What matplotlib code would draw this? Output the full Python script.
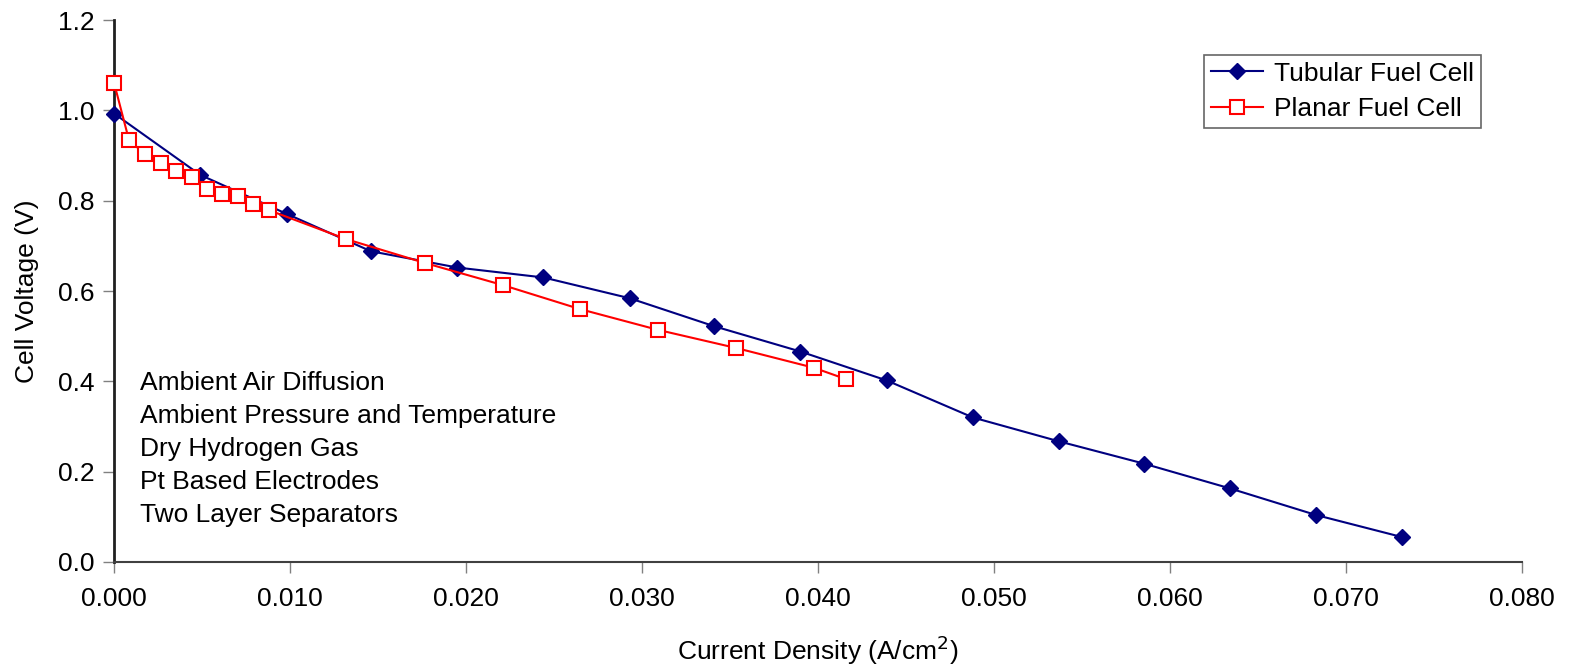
import matplotlib.pyplot as plt

plt.rcParams["font.family"] = ["Liberation Sans", "DejaVu Sans"]

tubular_j = [0.0, 0.0049, 0.0098, 0.0146, 0.0195, 0.0244, 0.0293, 0.0341,
             0.0390, 0.0439, 0.0488, 0.0537, 0.0585, 0.0634, 0.0683, 0.0732]
tubular_v = [0.993, 0.857, 0.771, 0.688, 0.652, 0.630, 0.584, 0.522,
             0.466, 0.402, 0.320, 0.267, 0.218, 0.163, 0.104, 0.055]

planar_j = [0.0, 0.00085, 0.00176, 0.00267, 0.00352, 0.00443, 0.00528, 0.00614,
            0.00704, 0.0079, 0.0088, 0.01318, 0.01767, 0.0221, 0.02647, 0.0309,
            0.03533, 0.03977, 0.04158]
planar_v = [1.061, 0.934, 0.903, 0.883, 0.866, 0.852, 0.826, 0.815,
            0.810, 0.793, 0.779, 0.715, 0.662, 0.613, 0.560, 0.514,
            0.474, 0.430, 0.405]

conditions = [
    "Ambient Air Diffusion",
    "Ambient Pressure and Temperature",
    "Dry Hydrogen Gas",
    "Pt Based Electrodes",
    "Two Layer Separators",
]

fig = plt.figure(figsize=(15.71, 6.68), dpi=100)
ax = fig.add_axes([0.0726, 0.1587, 0.8962, 0.8113])

ax.plot(tubular_j, tubular_v, color="#000080", lw=1.5, marker="D", ms=8,
        label="Tubular Fuel Cell", clip_on=False, zorder=3)
ax.plot(planar_j, planar_v, color="#ff0000", lw=1.5, marker="s", ms=10,
        mfc="white", mec="#ff0000", mew=1.5, label="Planar Fuel Cell",
        clip_on=False, zorder=4)

ax.set_xlim(0, 0.08)
ax.set_ylim(0, 1.2)
ax.set_xticks([i * 0.01 for i in range(9)])
ax.set_yticks([i * 0.2 for i in range(7)])
ax.set_xticklabels([f"{i * 0.01:.3f}" for i in range(9)])
ax.set_yticklabels([f"{i * 0.2:.1f}" for i in range(7)])
ax.tick_params(labelsize=19, length=8, width=1, color="#808080", pad=10)
ax.tick_params(axis="y", pad=6)

for side in ["top", "right"]:
    ax.spines[side].set_visible(False)
ax.spines["left"].set_linewidth(2)
ax.spines["left"].set_color("#202020")
ax.spines["bottom"].set_linewidth(1.5)
ax.spines["bottom"].set_color("#404040")

ax.set_xlabel("Current Density (A/cm$^2$)", fontsize=19, labelpad=16)
ax.set_ylabel("Cell Voltage (V)", fontsize=19, labelpad=14)

for i, line in enumerate(conditions):
    ax.text(0.0015, 0.396 - i * 0.073, line, fontsize=19, va="center", ha="left")

leg = ax.legend(loc="upper right", bbox_to_anchor=(0.980, 0.960), fontsize=19,
                frameon=True, fancybox=False, edgecolor="#404040",
                handlelength=2.0, borderpad=0.25, labelspacing=0.45,
                handletextpad=0.4)
leg.get_frame().set_linewidth(1.2)

fig.savefig("out.png", dpi=100)
